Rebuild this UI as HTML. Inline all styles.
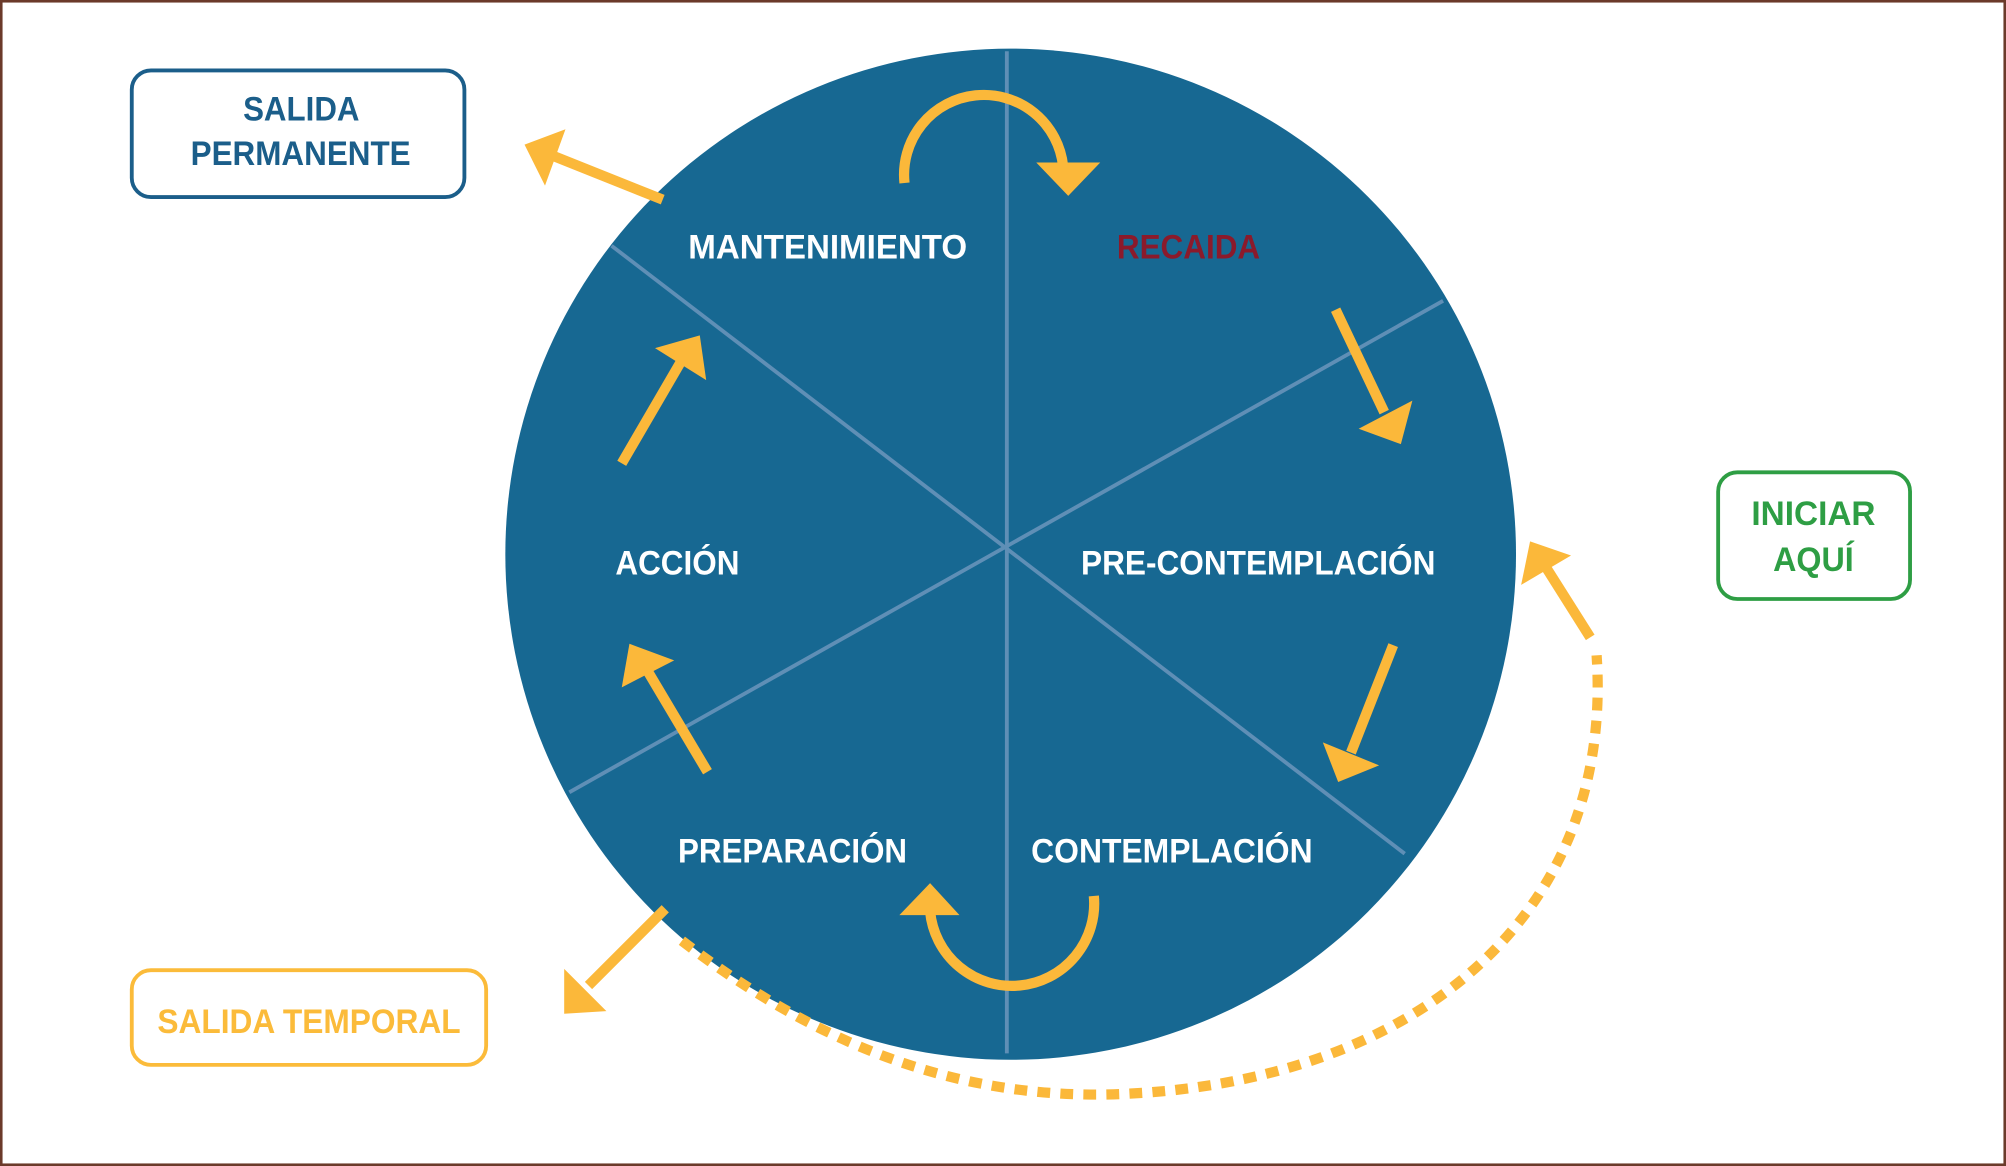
<!DOCTYPE html>
<html><head><meta charset="utf-8"><style>
html,body{margin:0;padding:0;background:#fff;}
svg{display:block;}
text{font-family:"Liberation Sans Narrow","Liberation Sans",sans-serif;font-weight:bold;}
</style></head><body>
<svg width="2006" height="1166" viewBox="0 0 1568 911" preserveAspectRatio="none" xmlns="http://www.w3.org/2000/svg">
<rect x="1" y="1" width="1566" height="909" fill="#fff" stroke="#6b3a2a" stroke-width="2"/>
<circle cx="790" cy="433" r="395" fill="#176892"/>
<g stroke="#5f8fb6" stroke-width="3">
<line x1="787" y1="40" x2="787" y2="823"/>
<line x1="478" y1="192" x2="1098" y2="667"/>
<line x1="445" y1="619" x2="1128" y2="235"/>
</g>
<g fill="#fff" font-size="27">
<text x="538" y="202" textLength="218" lengthAdjust="spacingAndGlyphs">MANTENIMIENTO</text>
<text x="481" y="449" textLength="97" lengthAdjust="spacingAndGlyphs">ACCIÓN</text>
<text x="845" y="449" textLength="277" lengthAdjust="spacingAndGlyphs">PRE-CONTEMPLACIÓN</text>
<text x="530" y="674" textLength="179" lengthAdjust="spacingAndGlyphs">PREPARACIÓN</text>
<text x="806" y="674" textLength="220" lengthAdjust="spacingAndGlyphs">CONTEMPLACIÓN</text>
</g>
<text x="873" y="202" font-size="27" fill="#8b1a2b" textLength="112" lengthAdjust="spacingAndGlyphs">RECAIDA</text>
<!-- boxes -->
<rect x="103" y="55" width="260" height="99" rx="15" fill="#fff" stroke="#1b5e8a" stroke-width="3"/>
<text x="190" y="94" font-size="27" fill="#1b5e8a" textLength="91" lengthAdjust="spacingAndGlyphs">SALIDA</text>
<text x="149" y="129" font-size="27" fill="#1b5e8a" textLength="172" lengthAdjust="spacingAndGlyphs">PERMANENTE</text>
<rect x="1343" y="369" width="150" height="99" rx="15" fill="#fff" stroke="#2e9e44" stroke-width="3"/>
<text x="1369" y="410" font-size="27" fill="#2e9e44" textLength="97" lengthAdjust="spacingAndGlyphs">INICIAR</text>
<text x="1386" y="446" font-size="27" fill="#2e9e44" textLength="63" lengthAdjust="spacingAndGlyphs">AQUÍ</text>
<rect x="103" y="758" width="277" height="74" rx="15" fill="#fff" stroke="#fbbb3a" stroke-width="3"/>
<text x="123" y="807" font-size="27" fill="#fbbb3a" textLength="237" lengthAdjust="spacingAndGlyphs">SALIDA TEMPORAL</text>
<!-- arrows -->
<g stroke="#fbb83a" stroke-width="8" fill="none">
<path d="M707,143 A60,60 0 0 1 831,130"/>
<line x1="518" y1="156" x2="428" y2="120"/>
<line x1="1044" y1="242" x2="1082" y2="322"/>
<line x1="1089" y1="504" x2="1056" y2="588"/>
<path d="M855,700 A63,63 0 0 1 727,712"/>
<line x1="553" y1="603" x2="506" y2="524"/>
<line x1="486" y1="362" x2="532" y2="283"/>
<line x1="520" y1="710" x2="460" y2="770"/>
<line x1="1243" y1="498" x2="1207" y2="441"/>
<path d="M533,735 C650,825 760,858 870,855 C1100,848 1262,720 1248,512" stroke-dasharray="10 8"/>
</g>
<g fill="#fbb83a">
<polygon points="810,127 860,127 835,153"/>
<polygon points="410,113 442,101 426,145"/>
<polygon points="1062,335 1104,313 1095,347"/>
<polygon points="1034,580 1078,598 1046,611"/>
<polygon points="703,715 750,715 727,690"/>
<polygon points="486,537 527,516 492,503"/>
<polygon points="512,272 547,262 552,297"/>
<polygon points="441,757 441,792 474,790"/>
<polygon points="1189,457 1228,434 1196,423"/>
</g>
</svg>
</body></html>
